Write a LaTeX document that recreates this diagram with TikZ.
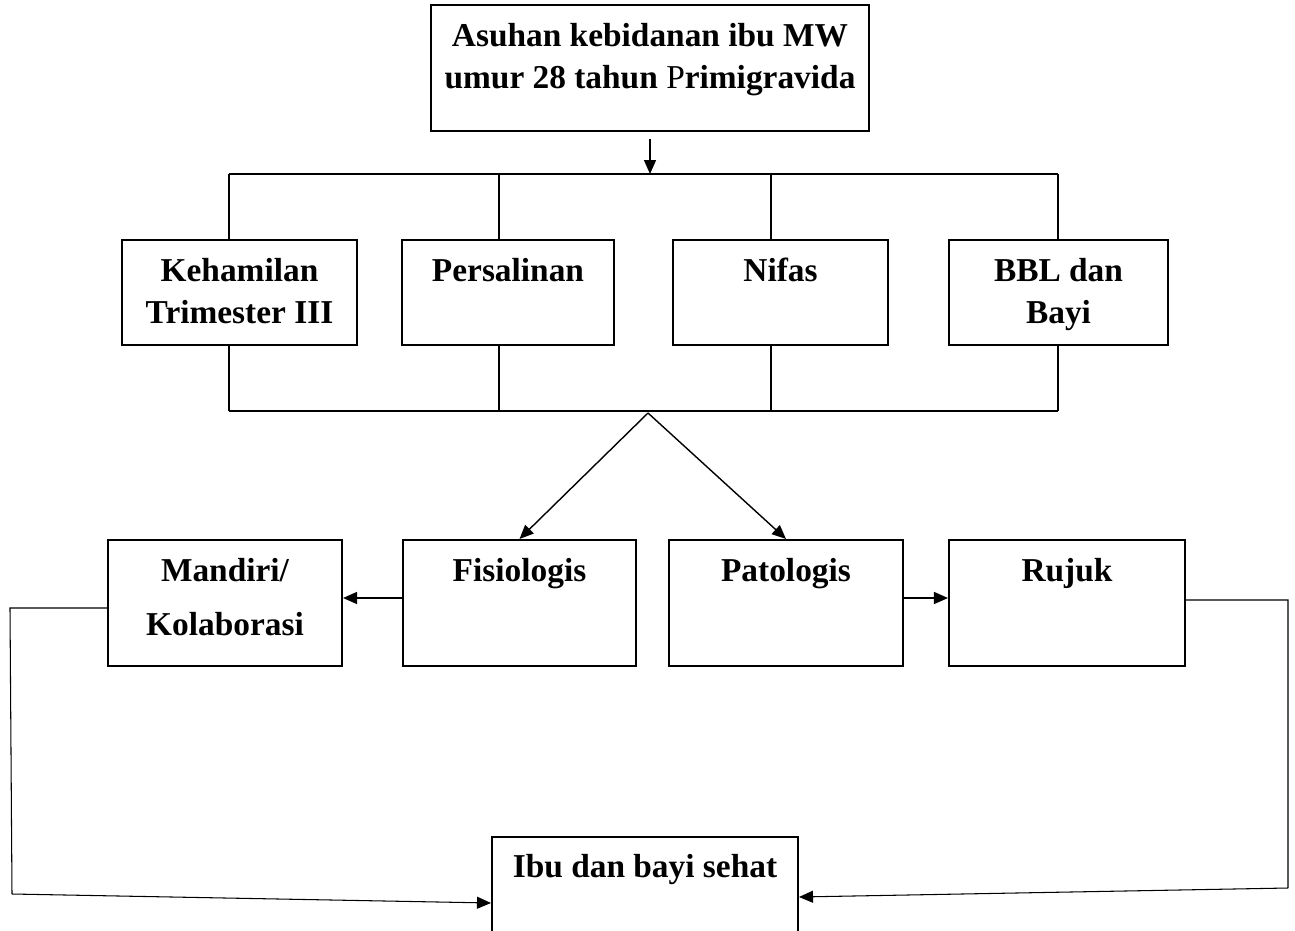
\documentclass[tikz,border=0pt]{standalone}
\usepackage{fontspec}
\setmainfont{Liberation Serif}
\usepackage{tikz}
\usetikzlibrary{arrows.meta, positioning}
\tikzset{
    block/.style={rectangle, draw, line width=1.2pt, inner sep=0pt},
    lbl/.style={align=center, inner sep=0pt, font=\fontsize{19}{24}\selectfont\bfseries},
    arrow/.style={line width=0.8pt, -{Triangle[length=0.28cm, width=0.24cm]}},
    link/.style={line width=0.8pt},
    back/.style={line width=0.6pt}
}

\begin{document}
\begin{tikzpicture}[x=0.02cm, y=-0.02cm]
    \useasboundingbox (0,0) rectangle (1295,930);

    % Nodes
    \node[block, minimum width=8.76cm, minimum height=2.52cm] (asuhan) at (650,68) {};
    \node[lbl, below=0.38cm of asuhan.north] (asuhanT) {Asuhan kebidanan ibu MW\\umur 28 tahun {\mdseries P}rimigravida};

    \node[block, minimum width=4.70cm, minimum height=2.1cm] (kehamilan) at (239.5,292.5) {};
    \node[block, minimum width=4.24cm, minimum height=2.1cm] (persalinan) at (508,292.5) {};
    \node[block, minimum width=4.30cm, minimum height=2.1cm] (nifas) at (780.5,292.5) {};
    \node[block, minimum width=4.38cm, minimum height=2.1cm] (bbl) at (1058.5,292.5) {};
    \node[lbl, below=0.38cm of kehamilan.north] (kehamilanT) {Kehamilan\\Trimester III};
    \node[lbl, below=0.38cm of persalinan.north] (persalinanT) {Persalinan};
    \node[lbl, below=0.38cm of nifas.north] (nifasT) {Nifas};
    \node[lbl, below=0.38cm of bbl.north] (bblT) {BBL dan\\Bayi};

    \node[block, minimum width=4.68cm, minimum height=2.52cm] (mandiri) at (225,603) {};
    \node[block, minimum width=4.66cm, minimum height=2.52cm] (fisiologis) at (519.5,603) {};
    \node[block, minimum width=4.68cm, minimum height=2.52cm] (patologis) at (786,603) {};
    \node[block, minimum width=4.72cm, minimum height=2.52cm] (rujuk) at (1067,603) {};
    \node[lbl, below=0.38cm of mandiri.north] (mandiriT) {Mandiri/\\[6.6pt]Kolaborasi};
    \node[lbl, below=0.38cm of fisiologis.north] (fisiologisT) {Fisiologis};
    \node[lbl, below=0.38cm of patologis.north] (patologisT) {Patologis};
    \node[lbl, below=0.38cm of rujuk.north] (rujukT) {Rujuk};

    % (runs off the bottom of the page)
    \node[block, minimum width=6.12cm, minimum height=2.0cm] (ibu) at (645,887) {};
    \node[lbl, below=0.36cm of ibu.north] (ibuT) {Ibu dan bayi sehat};

    % Bus lines
    \coordinate (busTop) at (650,174);
    \coordinate (apex) at (648,413);
    \draw[link] (229,174) -- (1058,174);
    \draw[link] (229,411) -- (1058,411);
    \foreach \x/\n in {229/kehamilan, 499/persalinan, 771/nifas, 1058/bbl} {
        \draw[link] (\x,174) -- (\n.north -| \x,0);
        \draw[link] (\n.south -| \x,0) -- (\x,411);
    }

    % Arrows
    \draw[arrow] ([yshift=-0.14cm]asuhan.south) -- (busTop);
    \draw[arrow] (apex) -- (fisiologis.north);
    \draw[arrow] (apex) -- (patologis.north);
    \draw[arrow] ([yshift=0.1cm]fisiologis.west) -- ([yshift=0.1cm]mandiri.east);
    \draw[arrow] ([yshift=0.1cm]patologis.east) -- ([yshift=0.1cm]rujuk.west);

    % Back to Ibu dan bayi sehat
    \coordinate (l1) at (10,608);
    \coordinate (l2) at (12,894);
    \coordinate (r1) at (1288,600);
    \coordinate (r2) at (1288,888);
    \draw[back] ([yshift=-0.1cm]mandiri.west) -- (l1) -- (l2);
    \draw[back, -{Triangle[length=0.28cm, width=0.24cm]}] (l2) -- ([yshift=-0.32cm]ibu.west);
    \draw[back] ([yshift=0.06cm]rujuk.east) -- (r1) -- (r2);
    \draw[back, -{Triangle[length=0.28cm, width=0.24cm]}] (r2) -- ([yshift=-0.2cm]ibu.east);

\end{tikzpicture}
\end{document}
